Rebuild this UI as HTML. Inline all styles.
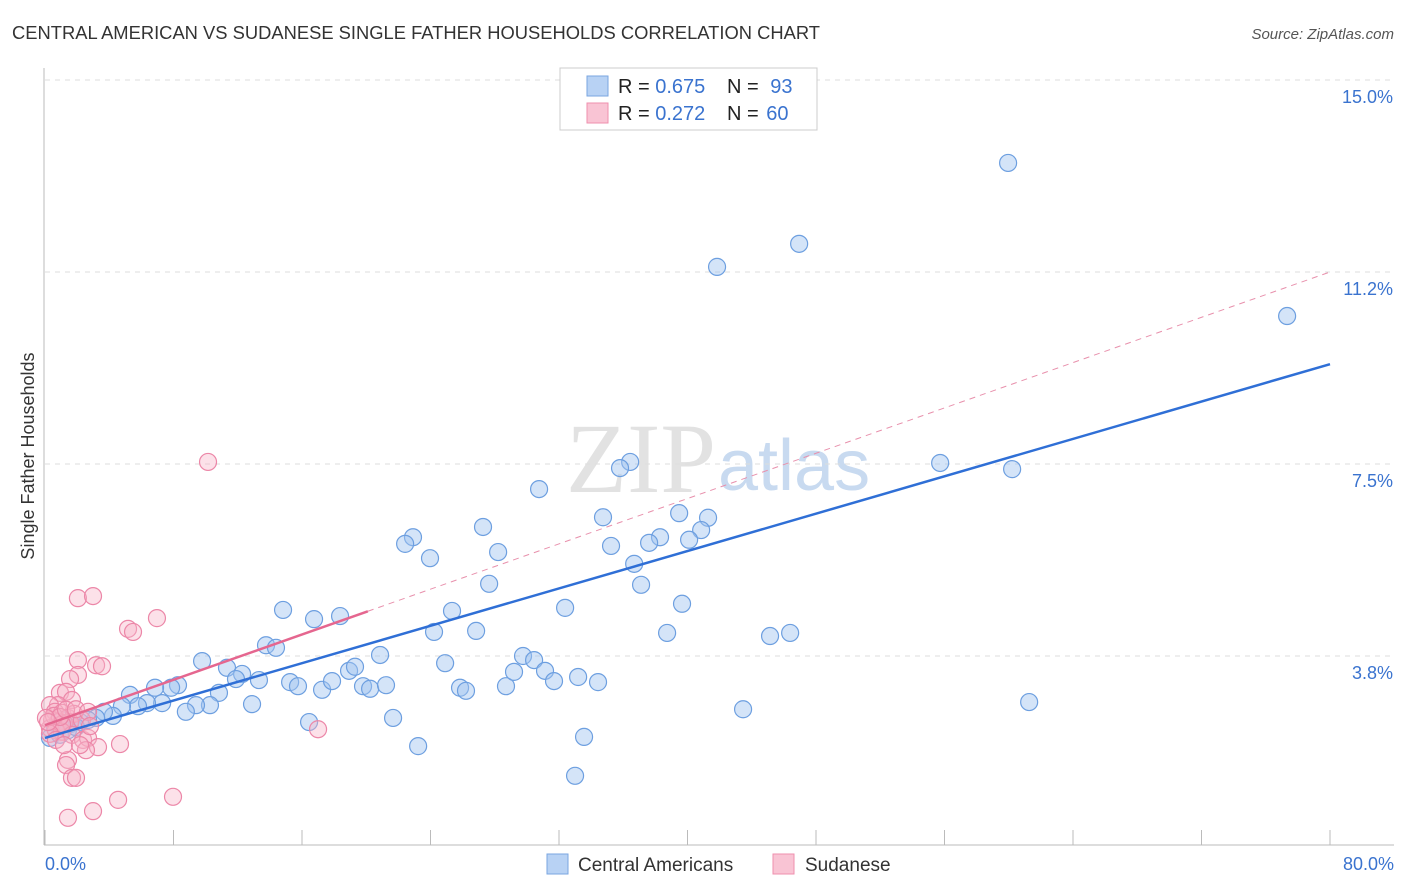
<!DOCTYPE html>
<html><head><meta charset="utf-8"><style>
body{margin:0;background:#fff;font-family:"Liberation Sans",sans-serif;}
#wrap{position:relative;width:1406px;height:892px;overflow:hidden;}
</style></head><body>
<div id="wrap">
<svg id="svg" width="1406" height="892" xmlns="http://www.w3.org/2000/svg" font-family="Liberation Sans, sans-serif">
<text x="12" y="39" font-size="18" fill="#333" textLength="808" lengthAdjust="spacingAndGlyphs">CENTRAL AMERICAN VS SUDANESE SINGLE FATHER HOUSEHOLDS CORRELATION CHART</text>
<text x="1394" y="39" font-size="15" fill="#555" font-style="italic" text-anchor="end">Source: ZipAtlas.com</text>
<text x="0" y="0" transform="translate(34,456) rotate(-90)" font-size="18" fill="#333" text-anchor="middle">Single Father Households</text>
<text x="716" y="492" font-size="100" fill="#e2e2e2" font-family="Liberation Serif, serif" text-anchor="end">ZIP</text>
<text x="718" y="490" font-size="72" fill="#c8daf0">atlas</text>
<g id="grid"></g><g id="axes"></g><g id="pts"></g><g id="lines"></g>
<g>
<rect x="560" y="68" width="257" height="62" fill="#fff" stroke="#ccc"/>
<rect x="587" y="76" width="21" height="20" fill="#b8d2f4" stroke="#7aa6e0"/>
<rect x="587" y="103" width="21" height="20" fill="#f9c4d4" stroke="#ef8fae"/>
<text x="618" y="93" font-size="20" fill="#222">R = <tspan fill="#3a73cf">0.675</tspan></text>
<text x="727" y="93" font-size="20" fill="#222">N = <tspan fill="#3a73cf" dx="6">93</tspan></text>
<text x="618" y="120" font-size="20" fill="#222">R = <tspan fill="#3a73cf">0.272</tspan></text>
<text x="727" y="120" font-size="20" fill="#222">N = <tspan fill="#3a73cf" dx="2">60</tspan></text>
</g>
<g>
<rect x="547" y="854" width="21" height="20" fill="#b8d2f4" stroke="#7aa6e0"/>
<text x="578" y="871" font-size="19" fill="#333">Central Americans</text>
<rect x="773" y="854" width="21" height="20" fill="#f9c4d4" stroke="#ef8fae"/>
<text x="805" y="871" font-size="19" fill="#333">Sudanese</text>
</g>
</svg>
</div>
<script>
const yTicks=[3.75,7.5,11.25,15];
const yTickLabels=["3.8%","7.5%","11.2%","15.0%"];
const xTickLabels=["0.0%","80.0%"];
const blueX=[59.96,46.95,41.84,77.33,55.73,60.21,36.43,35.80,30.76,27.27,34.74,39.48,41.28,40.85,40.10,38.29,37.61,35.24,22.91,22.42,23.97,28.21,36.68,37.11,27.65,39.66,32.38,25.34,24.22,26.84,38.73,45.14,46.39,14.82,16.75,18.37,13.76,14.38,20.86,9.78,11.33,12.27,11.89,13.32,15.26,15.75,17.25,17.87,18.93,19.30,19.80,20.24,21.23,24.91,25.84,26.21,28.70,29.20,29.76,30.45,31.13,31.69,33.19,34.43,61.27,43.46,33.56,33.00,23.23,21.67,16.44,12.89,10.83,10.27,9.40,8.77,8.28,7.85,6.85,7.29,6.35,5.29,5.79,4.79,4.23,3.67,3.18,2.68,2.18,1.56,1.06,0.62,0.31,0.93,1.43,1.93];
const blueY=[13.38,11.80,11.35,10.39,7.52,7.40,7.54,7.42,7.01,6.27,6.46,6.54,6.45,6.21,6.02,6.07,5.96,5.90,6.07,5.94,5.66,5.78,5.55,5.14,5.16,4.77,4.69,4.63,4.22,4.24,4.20,4.14,4.20,4.65,4.47,4.53,3.96,3.91,3.77,3.65,3.52,3.40,3.30,3.28,3.24,3.16,3.09,3.26,3.46,3.54,3.16,3.11,3.18,3.61,3.13,3.07,3.16,3.44,3.75,3.67,3.46,3.26,3.34,3.24,2.85,2.71,2.17,1.41,1.99,2.54,2.46,2.81,3.03,2.79,2.79,2.66,3.18,3.13,3.13,2.83,2.83,2.99,2.77,2.77,2.58,2.66,2.54,2.50,2.46,2.42,2.50,2.34,2.15,2.21,2.30,2.36];
const pinkX=[10.15,2.05,2.99,6.97,5.17,5.48,2.05,3.18,3.55,2.05,1.56,0.93,1.31,1.68,0.81,0.31,0.62,1.06,1.43,1.81,0.44,0.81,1.18,1.56,2.30,0.31,0.68,1.06,1.68,2.37,2.68,3.30,4.67,2.55,17.0,1.43,1.31,1.68,1.93,4.55,7.97,2.99,1.43,1.06,0.56,0.93,1.31,1.93,2.68,0.31,0.68,1.18,2.18,2.80,0.06,0.19];
const pinkY=[7.54,4.88,4.92,4.49,4.28,4.22,3.67,3.57,3.55,3.38,3.30,3.03,3.05,2.89,2.79,2.79,2.66,2.64,2.54,2.62,2.50,2.46,2.44,2.46,2.50,2.34,2.30,2.27,2.21,2.11,2.15,1.97,2.03,1.91,2.32,1.72,1.62,1.37,1.37,0.94,1.00,0.72,0.59,2.42,2.58,2.56,2.70,2.71,2.66,2.23,2.11,2.01,2.01,2.38,2.54,2.46];
const blueFit=[2.15,9.45];
const pinkFit=[2.4,11.25];
const pinkSolidEnd=20.1;

const NS="http://www.w3.org/2000/svg";
const X=v=>45+v*(1285/80);
const Y=v=>848-v*51.2;
function mk(tag,attrs,parent){const e=document.createElementNS(NS,tag);for(const k in attrs)e.setAttribute(k,attrs[k]);document.getElementById(parent).appendChild(e);return e;}
yTicks.forEach((t,i)=>{
 const l=mk('line',{x1:45,x2:1394,y1:Y(t),y2:Y(t),stroke:'#ddd','stroke-dasharray':'5,5'},'grid');
 
 
 const tx=mk('text',{x:1393,y:Y(t)+23,'font-size':18,fill:'#3a73cf','text-anchor':'end'},'grid');
 tx.textContent=yTickLabels[i];
 
 
});
const ax=mk('line',{x1:44,x2:44,y1:68,y2:845,stroke:'#bbb'},'axes');


const bx=mk('line',{x1:44,x2:1394,y1:845,y2:845,stroke:'#bbb'},'axes');


for(let i=0;i<=10;i++){
 const t=mk('line',{x1:X(i*8),x2:X(i*8),y1:830,y2:845,stroke:'#bbb'},'axes');
 
 
}
[[0,'start',45],[80,'end',1394]].forEach((d,i)=>{
 const tx=mk('text',{x:d[2],y:870,'font-size':18,fill:'#3a73cf','text-anchor':d[1]},'axes');
 tx.textContent=xTickLabels[i];
 
 
});
blueX.forEach((x,i)=>{
 const c=mk('circle',{cx:X(x),cy:Y(blueY[i]),r:8.5,fill:'rgba(160,196,240,0.45)',stroke:'#6d9fe0','stroke-width':1.2},'pts');
 
 
});
pinkX.forEach((x,i)=>{
 const c=mk('circle',{cx:X(x),cy:Y(pinkY[i]),r:8.5,fill:'rgba(248,180,200,0.4)',stroke:'#ec87a8','stroke-width':1.2},'pts');
 
 
});
const bl=mk('line',{x1:X(0),y1:Y(blueFit[0]),x2:X(80),y2:Y(blueFit[1]),stroke:'#2f6fd6','stroke-width':2.5},'lines');


const pAt=v=>pinkFit[0]+(pinkFit[1]-pinkFit[0])*v/80;
const pd=mk('line',{x1:X(pinkSolidEnd),y1:Y(pAt(pinkSolidEnd)),x2:X(80),y2:Y(pinkFit[1]),stroke:'#e890ac','stroke-width':1,'stroke-dasharray':'6,5'},'lines');


const ps=mk('line',{x1:X(0),y1:Y(pinkFit[0]),x2:X(pinkSolidEnd),y2:Y(pAt(pinkSolidEnd)),stroke:'#e5668f','stroke-width':2.5},'lines');


</script>
</body></html>
